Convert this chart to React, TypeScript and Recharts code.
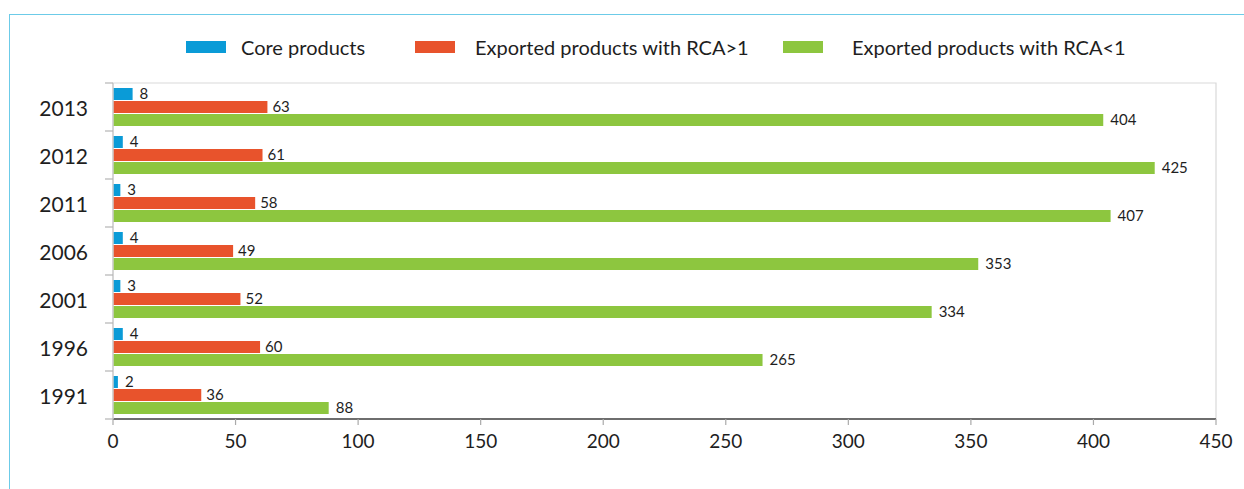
import React from 'react';
import { BarChart, Bar, XAxis, YAxis, Legend, LabelList, ReferenceArea } from 'recharts';

const years = ['2013', '2012', '2011', '2006', '2001', '1996', '1991'];
const coreProducts = [8, 4, 3, 4, 3, 4, 2];
const rcaAbove1 = [63, 61, 58, 49, 52, 60, 36];
const rcaBelow1 = [404, 425, 407, 353, 334, 265, 88];
const xTicks = [0, 50, 100, 150, 200, 250, 300, 350, 400, 450];

const seriesNames = ['Core products', 'Exported products with RCA>1', 'Exported products with RCA<1'];
const seriesColors = ['#0a9bd7', '#e8532c', '#8dc63f'];

const data = years.map((y, i) => ({
  year: y,
  core: coreProducts[i],
  above: rcaAbove1[i],
  below: rcaBelow1[i],
}));

const FONT = 'Lato, "Open Sans", sans-serif';
const TEXT = '#1e1e1e';

const YTick = (props: any) => {
  const { x, y, payload, index } = props;
  const off = payload && typeof payload.offset === 'number' && payload.offset > 0 ? payload.offset : 24;
  const last = index === years.length - 1;
  return (
    <g>
      <line x1={x - 8} x2={x} y1={y - off} y2={y - off} stroke="#b5b5b5" strokeWidth={1.2} />
      {last && <line x1={x - 8} x2={x} y1={y + off} y2={y + off} stroke="#b5b5b5" strokeWidth={1.2} />}
      <text x={x - 25} y={y} textAnchor="end" dominantBaseline="central" fontSize={21} fill={TEXT} fontFamily={FONT}>
        {payload.value}
      </text>
    </g>
  );
};

const LegendContent = () => {
  const widths = [229, 368, undefined];
  const gaps = [15, 20, 29];
  return (
    <div style={{ height: 63, display: 'flex', alignItems: 'flex-start', paddingLeft: 186, paddingTop: 14, boxSizing: 'border-box', fontFamily: FONT }}>
      {seriesNames.map((n, i) => (
        <div key={n} style={{ display: 'flex', alignItems: 'center', width: widths[i], height: 26 }}>
          <span style={{ display: 'inline-block', width: 40, height: 12, background: seriesColors[i], marginRight: gaps[i] }} />
          <span style={{ fontSize: 20, color: TEXT, whiteSpace: 'nowrap' }}>{n}</span>
        </div>
      ))}
    </div>
  );
};

export default function App() {
  return (
    <div style={{ position: 'absolute', left: 0, top: 0, width: 1244, height: 489, overflow: 'hidden', background: '#fff', fontFamily: FONT }}>
      <div style={{ position: 'absolute', left: 9, top: 14, width: 1400, height: 700, border: '1.5px solid #6ccbe8' }} />
      <div style={{ position: 'absolute', left: 0, top: 0 }}>
        <BarChart
          width={1244}
          height={489}
          data={data}
          layout="vertical"
          margin={{ top: 20, right: 28, bottom: 30, left: 0 }}
          barSize={12}
          barGap={1}
        >
          <Legend verticalAlign="top" content={<LegendContent />} />
          <ReferenceArea x1={0} x2={450} fill="none" stroke="#d9d9d9" strokeWidth={1.2} ifOverflow="visible" />
          <XAxis
            type="number"
            domain={[0, 450]}
            ticks={xTicks}
            interval={0}
            height={40}
            axisLine={{ stroke: '#444', strokeWidth: 1.5 }}
            tickLine={{ stroke: '#aaa', strokeWidth: 1.2 }}
            tickSize={6}
            tickMargin={10}
            tick={{ fontSize: 19, fill: TEXT, fontFamily: FONT }}
          />
          <YAxis
            type="category"
            dataKey="year"
            width={113}
            axisLine={{ stroke: '#cfcfcf', strokeWidth: 1.5 }}
            tickLine={false}
            tickSize={0}
            tickMargin={0}
            tick={<YTick />}
            interval={0}
          />
          <Bar dataKey="core" name={seriesNames[0]} fill={seriesColors[0]} isAnimationActive={false}>
            <LabelList dataKey="core" position="right" offset={7} style={{ fontSize: 15, fill: TEXT, fontFamily: FONT }} />
          </Bar>
          <Bar dataKey="above" name={seriesNames[1]} fill={seriesColors[1]} isAnimationActive={false}>
            <LabelList dataKey="above" position="right" offset={5} style={{ fontSize: 15, fill: TEXT, fontFamily: FONT }} />
          </Bar>
          <Bar dataKey="below" name={seriesNames[2]} fill={seriesColors[2]} isAnimationActive={false}>
            <LabelList dataKey="below" position="right" offset={7} style={{ fontSize: 15, fill: TEXT, fontFamily: FONT }} />
          </Bar>
        </BarChart>
      </div>
    </div>
  );
}
